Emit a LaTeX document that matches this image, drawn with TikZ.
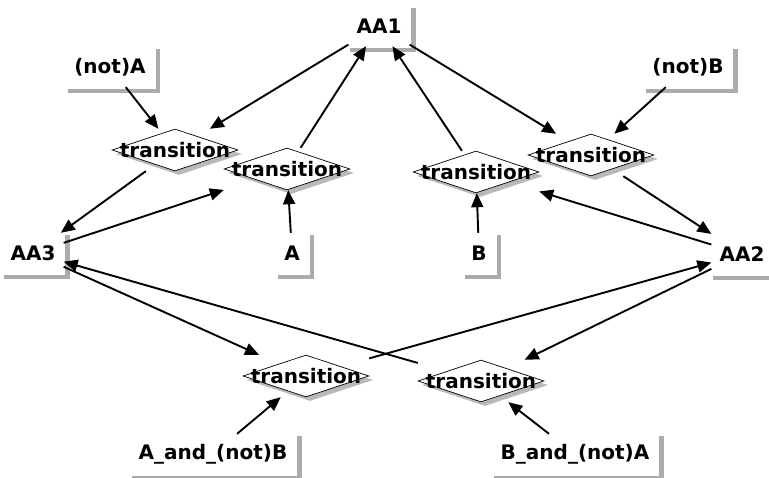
\documentclass[tikz,border=0pt]{standalone}
\usepackage{fontspec}
\setmainfont{DejaVu Sans}
\usetikzlibrary{arrows.meta,shapes.geometric,shadows}
\tikzset{
  place/.style={rectangle, inner xsep=8pt, inner ysep=0pt, minimum height=40pt},
  pshadow/.style={draw=gray!65, line width=4.5pt, line cap=rect},
  tdiam/.style={diamond, draw=black, line width=0.7pt, fill=white,
    minimum width=126pt, minimum height=42pt, inner sep=0pt,
    drop shadow={shadow xshift=4pt, shadow yshift=-4pt, fill=gray!55, opacity=1}},
  tbox/.style={rectangle, minimum width=126pt, minimum height=42pt, inner sep=0pt},
  arc/.style={draw=black, line width=1.9pt, -{Triangle[length=14pt,width=12pt]}},
}
\begin{document}
\begin{tikzpicture}[x=1pt,y=-1pt,font=\fontsize{20}{22}\selectfont\bfseries]
\useasboundingbox (0,0) rectangle (769,478);
\clip (0,0) rectangle (769,478);
\fill[white] (0,0) rectangle (769,478);
% places
\node[place] (aa1) at (379,26) {AA1};
\node[place] (nA)  at (110,67) {(not)A};
\node[place] (nB)  at (688,67) {(not)B};
\node[place] (aa3) at (33,253) {AA3};
\node[place] (aa2) at (742,254) {AA2};
\node[place] (a)   at (292,253) {A};
\node[place] (b)   at (479,253) {B};
\node[place] (anb) at (213,454) {A\_and\_(not)B};
\node[place] (bna) at (575,454) {B\_and\_(not)A};
\foreach \n in {aa1,nA,nB,aa3,aa2,a,b,anb,bna}
  \draw[pshadow] ([shift={(4pt,-4pt)}]\n.north east) -- ([shift={(4pt,-4pt)}]\n.south east) -- ([shift={(4pt,-4pt)}]\n.south west);
% transitions
\node[tdiam] (t1d) at (175,150) {};
\node[tdiam] (t2d) at (287,169) {};
\node[tdiam] (t3d) at (476,172) {};
\node[tdiam] (t4d) at (591,155) {};
\node[tdiam] (t5d) at (306,376) {};
\node[tdiam] (t6d) at (481,381) {};
\node[tbox] (t1) at (t1d) {transition};
\node[tbox] (t2) at (t2d) {transition};
\node[tbox] (t3) at (t3d) {transition};
\node[tbox] (t4) at (t4d) {transition};
\node[tbox] (t5) at (t5d) {transition};
\node[tbox] (t6) at (t6d) {transition};
% arcs
\draw[arc] (aa1) -- (t1);
\draw[arc] (t2) -- (aa1);
\draw[arc] (t3) -- (aa1);
\draw[arc] (aa1) -- (t4);
\draw[arc] (nA) -- (t1);
\draw[arc] (nB) -- (t4);
\draw[arc] (t1) -- (aa3);
\draw[arc] (aa3) -- (t2);
\draw[arc] (a) -- (t2);
\draw[arc] (b) -- (t3);
\draw[arc] (aa2) -- (t3);
\draw[arc] (t4) -- (aa2);
\draw[arc] (t6) -- (aa3);
\draw[arc] (aa3) -- (t5);
\draw[arc] (t5) -- (aa2);
\draw[arc] (aa2) -- (t6);
\draw[arc] (anb) -- (t5);
\draw[arc] (bna) -- (t6);
\end{tikzpicture}
\end{document}
